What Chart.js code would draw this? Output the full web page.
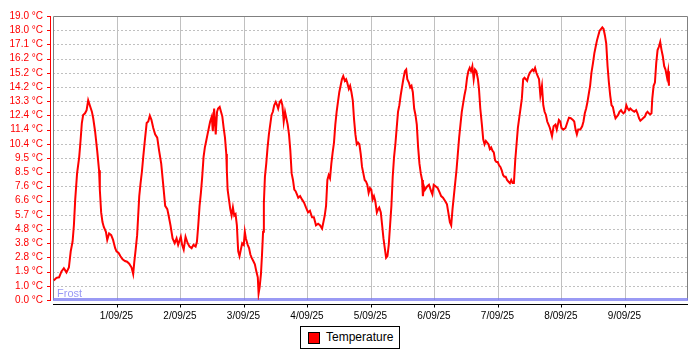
<!DOCTYPE html>
<html>
<head>
<meta charset="utf-8">
<script src="https://cdn.jsdelivr.net/npm/chart.js@4"></script>
<style>
  html, body { margin: 0; padding: 0; background: #ffffff; }
  #wrap { position: relative; width: 700px; height: 350px; }
  #legend { position: absolute; left: 300px; top: 326px; width: 98px; height: 21px; border: 1px solid #000; background: #fff;
            font-family: "Liberation Sans", Arial, sans-serif; font-size: 12px; color: #000; box-sizing: content-box; }
  #legend .sw { position: absolute; left: 7px; top: 5px; width: 10px; height: 10px; background: #ff0000; border: 1px solid #000; }
  #legend .tx { position: absolute; left: 25px; top: 3px; line-height: 14px; white-space: nowrap; }
</style>
</head>
<body>
<div id="wrap">
  <canvas id="c" width="700" height="350"></canvas>
  <div id="legend"><div class="sw"></div><div class="tx">Temperature</div></div>
</div>
<script>
// ---- data (hours since 31/08/25 00:00, temperature in °C) ----
const seriesName = "Temperature";
const hours = [
  0.3,1.3,2.3,3.2,4.1,5.1,6.0,6.7,7.4,7.9,8.4,9.1,9.9,10.4,10.9,11.4,12.1,12.7,13.3,13.9,
  14.7,15.2,15.9,16.7,17.4,17.7,18.2,18.7,19.2,20.0,20.5,21.2,22.0,22.7,23.5,24.0,24.8,25.5,26.3,27.2,
  28.0,28.8,29.7,30.3,30.7,31.3,31.8,32.2,32.6,33.1,33.6,34.1,34.7,35.4,36.0,36.6,37.2,37.9,38.6,39.4,
  40.1,40.9,41.6,42.4,43.2,43.7,44.4,45.2,46.0,46.7,47.3,
  48.3,48.8,49.4,50.1,50.9,51.6,52.4,53.1,53.9,54.4,54.9,55.4,55.9,56.4,56.9,57.4,57.9,58.4,58.9,59.4,
  60.0,60.4,60.9,61.5,62.0,62.4,63.0,63.5,64.0,64.5,65.0,65.5,65.7,66.0,66.5,67.0,67.5,68.0,68.5,69.0,
  69.5,69.8,70.0,70.5,71.0,71.5,72.1,72.5,72.9,73.6,74.1,74.6,75.1,75.7,76.3,76.8,77.4,77.7,78.1,78.6,
  79.0,79.4,79.7,80.1,80.6,81.1,81.6,82.1,82.6,83.1,83.6,84.2,84.7,85.1,85.7,86.2,86.7,87.2,87.7,88.2,
  88.7,89.2,89.7,90.2,90.7,91.2,91.7,92.2,92.7,
  93.4,94.1,94.9,95.6,96.4,97.1,97.9,98.6,99.4,100.2,100.9,101.7,102.2,102.7,103.2,103.7,104.2,104.7,105.2,105.7,
  106.2,106.7,107.2,107.7,108.2,108.7,109.2,109.7,110.3,110.8,111.2,111.8,112.3,112.8,113.3,113.8,114.3,114.8,115.3,115.8,
  116.3,116.8,117.3,117.8,118.3,118.8,119.3,119.8,120.3,120.8,121.3,121.8,122.4,122.9,123.3,123.9,124.4,124.9,125.4,125.9,
  126.4,126.9,127.4,127.9,128.4,128.9,129.4,129.9,130.4,130.9,131.4,131.9,132.4,133.0,133.5,133.9,134.5,135.0,135.5,136.0,
  136.5,137.0,137.5,138.0,138.5,139.0,139.5,139.8,140.2,
  140.6,141.4,142.1,142.9,143.4,143.9,144.7,145.4,146.2,146.7,147.4,148.2,148.9,149.4,150.0,150.5,151.0,151.5,152.0,152.5,
  153.0,153.5,154.0,154.5,155.0,155.5,156.0,156.5,157.0,157.5,158.0,158.5,159.0,159.5,160.0,160.6,161.0,161.5,162.1,162.6,
  163.1,163.6,164.1,164.6,165.1,165.6,166.1,166.6,167.1,167.6,168.1,168.6,169.1,169.6,170.1,170.6,171.1,171.6,172.1,172.7,
  173.2,173.7,174.2,174.7,175.2,175.7,176.2,176.7,177.2,177.7,178.2,178.7,179.2,179.7,180.2,180.7,181.2,181.7,182.2,182.7,
  183.2,183.7,184.2,184.8,185.3,185.8,186.3,186.8,187.3,187.8,
  188.6,189.2,189.9,190.4,191.2,191.7,192.2,192.9,193.7,194.5,195.0,195.7,196.5,197.0,197.5,198.0,198.5,199.3,200.0,200.5,
  201.0,201.5,202.0,202.6,203.0,203.5,204.1,204.6,205.1,205.6,206.1,206.6,207.1,207.6,208.1,208.6,209.1,209.6,210.1,210.6,
  211.1,211.6,212.1,212.6,213.1,213.6,214.1,214.7,215.1,215.6,216.2,216.7,217.2,217.7,218.2,218.9,219.7,220.4,220.9,221.5,
  222.0,222.4,223.0,223.7,224.2,224.7,225.2,225.7,226.2,226.5,227.0,227.5,228.0,228.5,229.0,229.5,230.0,230.5,231.0,231.5,
  232.1,232.5,232.8
];
const temps = [
  1.3,1.48,1.52,1.91,2.13,1.85,2.17,3.26,3.9,5.0,6.73,8.47,9.56,10.64,11.84,12.38,12.49,12.7,13.36,13.03,
  12.6,12.16,11.29,9.99,8.68,7.38,5.86,5.21,4.89,4.56,4.02,4.45,4.34,4.02,3.47,3.26,3.15,2.93,2.72,2.61,
  2.56,2.43,2.17,1.74,2.5,3.47,4.34,5.65,6.95,7.82,8.58,9.56,10.64,11.84,11.94,12.33,12.05,11.51,11.08,10.86,
  9.99,9.12,7.82,6.3,6.08,5.65,5.0,4.12,3.8,4.12,3.69,
  4.23,3.69,3.37,4.23,3.8,3.58,3.47,3.69,3.58,3.9,5.0,6.3,7.17,8.25,9.56,10.21,10.64,11.08,11.51,11.94,
  12.27,11.29,12.81,11.08,12.59,12.81,12.92,12.59,12.27,11.51,10.86,9.77,8.68,7.38,6.73,6.08,5.65,6.19,5.65,5.75,
  5.0,3.9,3.26,2.93,3.37,3.8,3.69,4.56,4.12,3.69,3.47,3.04,2.82,2.61,2.39,1.95,1.52,0.44,0.87,1.74,
  3.04,4.56,6.51,8.25,9.12,10.21,11.08,11.73,12.38,12.59,13.03,13.25,13.03,12.81,13.25,13.36,13.03,11.94,12.59,12.16,
  11.73,11.08,9.99,8.47,8.03,7.38,7.28,7.06,6.84,
  6.95,6.73,6.51,6.19,5.86,5.97,5.54,5.54,5.0,5.1,5.0,4.78,5.21,5.65,6.3,8.03,8.36,8.14,9.12,9.88,
  10.53,11.73,12.59,13.25,13.9,14.33,14.77,14.98,14.66,14.77,14.55,14.12,14.33,13.9,13.36,12.05,11.08,10.42,10.53,10.42,
  9.77,8.9,8.47,8.03,7.93,7.71,7.17,7.49,7.38,6.73,6.95,6.62,5.86,6.08,6.19,5.86,5.0,4.12,3.47,2.82,
  2.93,3.69,5.0,6.3,8.25,9.56,10.42,11.51,12.59,13.03,13.68,14.22,14.77,15.31,15.42,14.77,14.55,14.22,14.33,13.9,
  12.81,12.38,11.73,10.21,9.12,8.47,8.03,6.95,7.6,
  7.38,7.6,7.71,7.28,7.06,7.71,7.6,7.49,7.17,6.95,6.84,6.62,6.4,5.86,5.21,5.0,6.08,6.95,7.82,8.68,
  9.77,10.86,11.73,12.59,13.14,13.68,14.12,14.87,15.31,15.53,15.31,15.64,14.77,15.42,15.31,14.77,14.12,12.81,11.73,10.75,
  10.42,10.64,10.53,10.42,10.1,10.21,9.99,9.88,9.34,9.23,9.23,9.01,8.9,8.68,8.36,8.25,8.25,8.03,7.93,7.82,
  8.03,7.82,7.82,9.34,10.42,11.51,12.16,12.81,13.47,14.77,14.87,14.77,14.66,14.98,15.2,15.31,15.42,15.31,15.53,15.2,
  14.98,14.77,13.68,14.33,13.03,12.59,12.38,11.94,11.73,11.51,
  10.96,11.62,11.73,11.4,12.05,11.94,11.51,11.4,11.51,11.94,12.2,12.16,12.05,11.94,11.4,11.08,11.4,11.4,11.62,11.94,
  12.49,12.81,13.25,13.9,14.33,15.2,15.86,16.5,16.94,17.37,17.7,18.02,18.13,18.24,18.13,17.7,17.15,15.64,14.55,13.68,
  13.03,12.92,12.49,12.16,12.27,12.38,12.59,12.7,12.59,12.49,12.59,13.03,12.81,12.7,12.81,12.7,12.59,12.7,12.49,12.16,
  11.99,12.05,12.16,12.27,12.49,12.59,12.49,12.42,12.49,13.47,14.33,14.55,15.86,16.72,16.94,17.26,16.72,16.29,15.64,15.42,
  14.87,15.31,14.33
];
const xTickHours = [24, 48, 72, 96, 120, 144, 168, 192, 216];
const xTickLabels = ["1/09/25","2/09/25","3/09/25","4/09/25","5/09/25","6/09/25","7/09/25","8/09/25","9/09/25"];
const yTickValues = [0, 0.95, 1.9, 2.85, 3.8, 4.75, 5.7, 6.65, 7.6, 8.55, 9.5, 10.45, 11.4, 12.35, 13.3, 14.25, 15.2, 16.15, 17.1, 18.05, 19.0];
const yTickLabels = ["0.0 °C","1.0 °C","1.9 °C","2.8 °C","3.8 °C","4.8 °C","5.7 °C","6.6 °C","7.6 °C","8.5 °C","9.5 °C",
                     "10.4 °C","11.4 °C","12.4 °C","13.3 °C","14.2 °C","15.2 °C","16.2 °C","17.1 °C","18.0 °C","19.0 °C"];
const xRange = [0, 240];
const yRange = [0, 19];
const frostValue = 0;
const frostLabel = "Frost";

const points = hours.map((h, i) => ({ x: h, y: temps[i] }));
const FONT = "Liberation Sans, Arial, sans-serif";

const decor = {
  id: 'decor',
  beforeDatasetsDraw(chart) {
    const { ctx, chartArea: a, scales: { x, y } } = chart;
    ctx.save();
    // horizontal dashed grid
    ctx.strokeStyle = '#c0c0c0';
    ctx.lineWidth = 1;
    ctx.setLineDash([2, 2]);
    yTickValues.forEach(v => {
      if (v <= yRange[0] || v >= yRange[1]) return;
      const py = Math.round(y.getPixelForValue(v)) + 0.5;
      ctx.beginPath(); ctx.moveTo(a.left, py); ctx.lineTo(a.right, py); ctx.stroke();
    });
    ctx.setLineDash([]);
    // vertical solid grid
    xTickHours.forEach(v => {
      const px = Math.round(x.getPixelForValue(v)) + 0.5;
      ctx.beginPath(); ctx.moveTo(px, a.top); ctx.lineTo(px, a.bottom); ctx.stroke();
    });
    // plot outline
    ctx.strokeStyle = '#808080';
    ctx.beginPath();
    ctx.moveTo(Math.round(a.left) + 0.5, a.bottom);
    ctx.lineTo(Math.round(a.left) + 0.5, Math.round(a.top) + 0.5);
    ctx.lineTo(Math.round(a.right) - 0.5, Math.round(a.top) + 0.5);
    ctx.lineTo(Math.round(a.right) - 0.5, a.bottom);
    ctx.stroke();
    // frost marker
    const fy = y.getPixelForValue(frostValue);
    ctx.fillStyle = 'rgba(120,120,240,0.75)';
    ctx.fillRect(a.left, fy - 2, a.right - a.left, 3);
    ctx.fillStyle = '#9999f5';
    ctx.font = '11px ' + FONT;
    ctx.textAlign = 'left';
    ctx.textBaseline = 'alphabetic';
    ctx.fillText(frostLabel, a.left + 4, fy - 3);
    ctx.restore();
  },
  afterDraw(chart) {
    const { ctx, chartArea: a, scales: { x, y } } = chart;
    ctx.save();
    // left value axis (red), offset from plot
    ctx.strokeStyle = '#ff0000';
    ctx.lineWidth = 1;
    const ax = Math.round(a.left) - 3 + 0.5;
    ctx.beginPath(); ctx.moveTo(ax, a.top); ctx.lineTo(ax, a.bottom + 1); ctx.stroke();
    yTickValues.forEach(v => {
      const py = Math.round(y.getPixelForValue(v)) + 0.5;
      ctx.beginPath(); ctx.moveTo(ax - 3.5, py); ctx.lineTo(ax, py); ctx.stroke();
    });
    // bottom date axis (black), offset from plot
    ctx.strokeStyle = '#000000';
    const ay = Math.round(a.bottom) + 4 + 0.5;
    ctx.beginPath(); ctx.moveTo(a.left, ay); ctx.lineTo(a.right, ay); ctx.stroke();
    xTickHours.forEach(v => {
      const px = Math.round(x.getPixelForValue(v)) + 0.5;
      ctx.beginPath(); ctx.moveTo(px, ay); ctx.lineTo(px, ay + 3); ctx.stroke();
    });
    ctx.restore();
  }
};

new Chart(document.getElementById('c'), {
  type: 'line',
  data: {
    datasets: [{
      label: seriesName,
      data: points,
      borderColor: '#ff0000',
      backgroundColor: '#ff0000',
      borderWidth: 2,
      pointRadius: 0,
      tension: 0,
      fill: false
    }]
  },
  options: {
    responsive: false,
    animation: false,
    events: [],
    layout: { padding: { top: 8, right: 12, left: 0, bottom: 0 } },
    plugins: { legend: { display: false }, tooltip: { enabled: false }, title: { display: false } },
    scales: {
      x: {
        type: 'linear',
        min: xRange[0], max: xRange[1],
        grid: { display: false, drawTicks: false },
        border: { display: false },
        afterBuildTicks: s => { s.ticks = xTickHours.map(v => ({ value: v })); },
        afterFit: s => { s.height = 50; },
        ticks: {
          autoSkip: false, maxRotation: 0, padding: 10,
          color: '#000000', font: { family: FONT, size: 10 },
          callback: (v) => xTickLabels[xTickHours.indexOf(v)]
        }
      },
      y: {
        type: 'linear',
        min: yRange[0], max: yRange[1],
        grid: { display: false, drawTicks: false },
        border: { display: false },
        afterBuildTicks: s => { s.ticks = yTickValues.map(v => ({ value: v })); },
        afterFit: s => { s.width = 53; },
        ticks: {
          autoSkip: false, padding: 10,
          color: '#ff0000', font: { family: FONT, size: 10 },
          callback: (v, i) => yTickLabels[i]
        }
      }
    }
  },
  plugins: [decor]
});
</script>
</body>
</html>
